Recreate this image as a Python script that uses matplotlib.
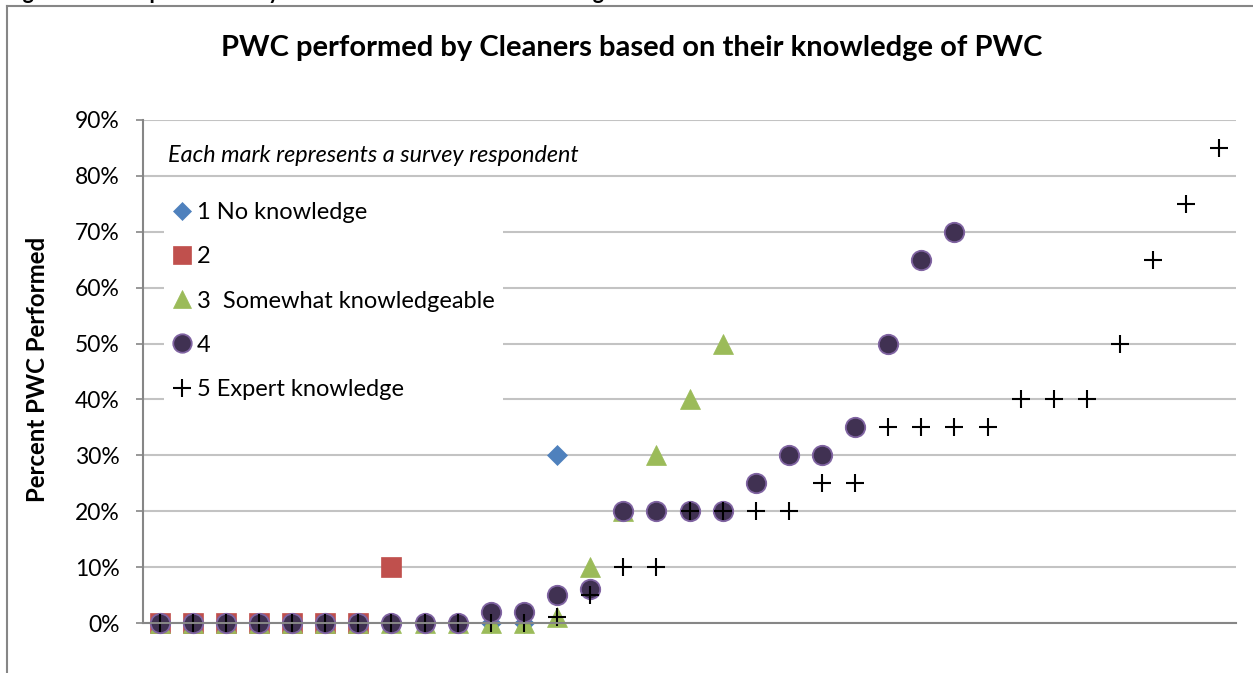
import matplotlib

matplotlib.use("Agg")
import matplotlib.pyplot as plt
import numpy as np
from matplotlib.lines import Line2D
from matplotlib.ticker import PercentFormatter

FONT = ["Lato", "DejaVu Sans"]
plt.rcParams["font.family"] = FONT

FIG_W, FIG_H = 1253, 673
GRID_COLOR = "#c3c3c3"
AXIS_COLOR = "#868686"

TITLE = "PWC performed by Cleaners based on their knowledge of PWC"
CAPTION = "Figure 4: PWC performed by cleaners based on their knowledge of PWC"
NOTE = "Each mark represents a survey respondent"
Y_LABEL = "Percent PWC Performed"

# one category per respondent position, values as fractions (None = no mark)
RESPONDENTS = list(range(1, 34))
LABELS = [
    "1 No knowledge",
    "2",
    "3  Somewhat knowledgeable",
    "4",
    "5 Expert knowledge",
]
NO_KNOWLEDGE = [
    None, None, None, None, None, None, None, None, None, None,
    0.0, 0.0, 0.30,
]
LEVEL_2 = [0.0, 0.0, 0.0, 0.0, 0.0, 0.0, 0.0, 0.10]
SOMEWHAT = [
    0.0, 0.0, 0.0, 0.0, 0.0, 0.0, 0.0, 0.0, 0.0, 0.0,
    0.0, 0.0, 0.01, 0.10, 0.20, 0.30, 0.40, 0.50,
]
LEVEL_4 = [
    0.0, 0.0, 0.0, 0.0, 0.0, 0.0, 0.0, 0.0, 0.0, 0.0,
    0.02, 0.02, 0.05, 0.06, 0.20, 0.20, 0.20, 0.20, 0.25, 0.30,
    0.30, 0.35, 0.50, 0.65, 0.70,
]
EXPERT = [
    0.0, 0.0, 0.0, 0.0, 0.0, 0.0, 0.0, 0.0, 0.0, 0.0,
    0.0, 0.0, 0.01, 0.05, 0.10, 0.10, 0.20, 0.20, 0.20, 0.20,
    0.25, 0.25, 0.35, 0.35, 0.35, 0.35, 0.40, 0.40, 0.40, 0.50,
    0.65, 0.75, 0.85,
]

STYLES = [
    dict(marker="D", ms=9.8, mfc="#4f81bd", mec="#4f81bd", mew=0.5),
    dict(marker="s", ms=14, mfc="#c0504d", mec="#c0504d", mew=0.5),
    dict(marker="^", ms=14, mfc="#9bbb59", mec="#9bbb59", mew=0.5),
    dict(marker="o", ms=14, mfc="#403152", mec="#8064a2", mew=1.3),
    dict(marker="+", ms=13, mfc="black", mec="black", mew=1.5),
]


def px_x(value):
    return value / FIG_W


def px_y(value):
    return 1 - value / FIG_H


fig = plt.figure(figsize=(FIG_W / 100, FIG_H / 100), dpi=100)
ax = fig.add_axes(
    [px_x(143), px_y(623), (1236 - 143) / FIG_W, (623 - 120) / FIG_H]
)

series = [NO_KNOWLEDGE, LEVEL_2, SOMEWHAT, LEVEL_4, EXPERT]
for values, label, style in zip(series, LABELS, STYLES):
    y = np.array([np.nan if v is None else v for v in values], dtype=float)
    x = RESPONDENTS[: len(y)]
    ax.plot(x, y, linestyle="none", label=label, clip_on=False, **style)

ax.set_xlim(0.5, len(RESPONDENTS) + 0.5)
ax.set_ylim(0, 0.9)
ax.set_yticks(np.arange(0, 0.91, 0.1))
ax.yaxis.set_major_formatter(PercentFormatter(1.0, decimals=0))
ax.set_xticks([])
ax.grid(axis="y", color=GRID_COLOR, linewidth=1.5)
ax.set_axisbelow(True)
for side in ("top", "right"):
    ax.spines[side].set_visible(False)
for side in ("left", "bottom"):
    ax.spines[side].set_color(AXIS_COLOR)
    ax.spines[side].set_linewidth(1.5)
ax.tick_params(
    axis="y", direction="out", length=5, width=1.2, color=AXIS_COLOR,
    labelsize=16.5, pad=12, labelcolor="black",
)

legend = ax.legend(
    loc="upper left",
    bbox_to_anchor=(px_x(164), px_y(194)),
    bbox_transform=fig.transFigure,
    fontsize=17,
    frameon=True,
    framealpha=1,
    facecolor="white",
    edgecolor="none",
    fancybox=False,
    markerscale=0.95,
    handlelength=0.85,
    handletextpad=0.2,
    labelspacing=0.98,
    borderpad=0.35,
    borderaxespad=0,
)
legend.set_zorder(5)

fig.text(px_x(632), px_y(48), TITLE, ha="center", va="center",
         fontsize=21, fontweight="bold")
fig.text(px_x(168), px_y(155), NOTE, ha="left", va="center",
         fontsize=16.8, style="italic")
fig.text(px_x(38), px_y(369), Y_LABEL, ha="center", va="center",
         rotation=90, fontsize=17.3, fontweight="bold")
# document caption above the chart, cut off by the top edge as in the source
fig.text(px_x(5), px_y(-1), CAPTION, ha="left", va="baseline",
         fontsize=15.5, fontweight="bold")

# outer chart-area border, cut off at the right and bottom
fig.add_artist(Line2D([px_x(7), 1], [px_y(6), px_y(6)], color=AXIS_COLOR, lw=1.5))
fig.add_artist(Line2D([px_x(7), px_x(7)], [px_y(6), 0], color=AXIS_COLOR, lw=1.5))

fig.savefig("out.png", dpi=100)
